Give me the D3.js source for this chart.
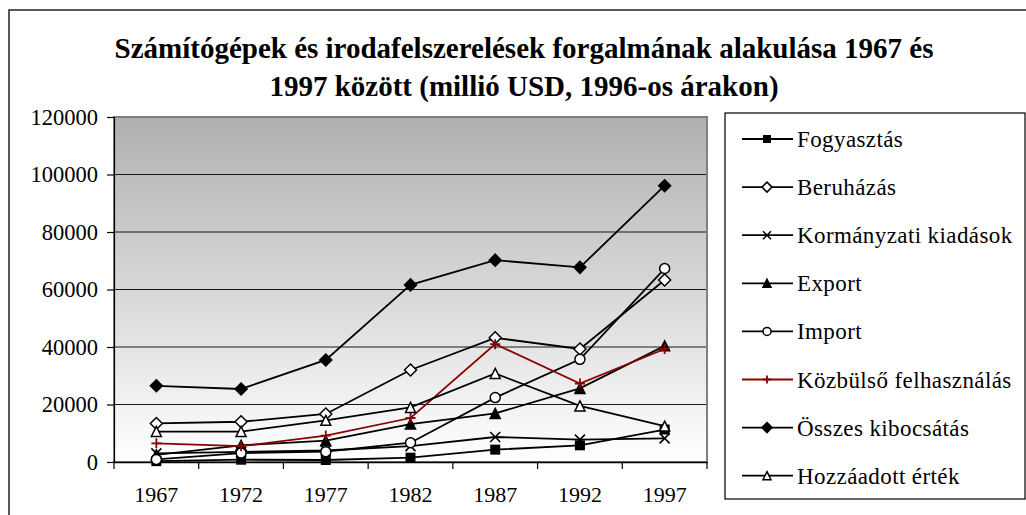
<!DOCTYPE html>
<html>
<head>
<meta charset="utf-8">
<script src="https://cdn.jsdelivr.net/npm/d3@7"></script>
<style>
  body { margin: 0; background: #fff; }
  text { font-family: "Liberation Serif", "DejaVu Serif", serif; fill: #000; }
</style>
</head>
<body>
<script>
// chart data
const years = ["1967", "1972", "1977", "1982", "1987", "1992", "1997"];
const yTicks = [0, 20000, 40000, 60000, 80000, 100000, 120000];

const fogyasztas = [300, 800, 700, 1500, 4300, 5800, 11300];
const beruhazas = [13400, 14000, 16700, 32000, 43200, 39300, 63300];
const kormanyzati = [3000, 3500, 4000, 5500, 8700, 7800, 8200];
const exportVals = [2500, 5800, 7400, 13200, 16900, 25600, 40400];
const importVals = [900, 3100, 3600, 6700, 22400, 35700, 67300];
const kozbulso = [6500, 5500, 9200, 15300, 41000, 27300, 39300];
const osszes = [26500, 25400, 35500, 61600, 70200, 67700, 96100];
const hozzaadott = [10600, 10600, 14500, 19000, 30800, 19500, 12500];

const seriesNames = ["Fogyasztás", "Beruházás", "Kormányzati kiadások", "Export",
    "Import", "Közbülső felhasználás", "Összes kibocsátás", "Hozzáadott érték"];
const seriesValues = [fogyasztas, beruhazas, kormanyzati, exportVals,
    importVals, kozbulso, osszes, hozzaadott];
const markers = ["square", "diamondOpen", "times", "triangle",
    "circleOpen", "plus", "diamond", "triangleOpen"];
const lineColors = ["#000", "#000", "#000", "#000", "#000", "#8b0000", "#000", "#000"];

const W = 1026, H = 515;
const plot = { left: 114, right: 707, top: 117, bottom: 462 };

const svg = d3.select("body").append("svg")
    .attr("width", W)
    .attr("height", H);

const defs = svg.append("defs");
const grad = defs.append("linearGradient")
    .attr("id", "bg")
    .attr("x1", 0).attr("y1", 0).attr("x2", 0).attr("y2", 1);
grad.append("stop").attr("offset", "0%").attr("stop-color", "#b0b0b0");
grad.append("stop").attr("offset", "100%").attr("stop-color", "#ffffff");

// outer chart frame, runs off the right and bottom edge
svg.append("rect")
    .attr("x", 9).attr("y", 10)
    .attr("width", 1040).attr("height", 530)
    .attr("fill", "none")
    .attr("stroke", "#222")
    .attr("stroke-width", 1.5);

// title
const title = svg.append("text")
    .attr("text-anchor", "middle")
    .style("font-weight", "bold")
    .style("font-size", "29px");
title.append("tspan").attr("x", 524).attr("y", 58)
    .text("Számítógépek és irodafelszerelések forgalmának alakulása 1967 és");
title.append("tspan").attr("x", 524).attr("y", 96)
    .text("1997 között (millió USD, 1996-os árakon)");

const x = d3.scaleBand()
    .domain(years)
    .range([plot.left, plot.right])
    .padding(0);

const y = d3.scaleLinear()
    .domain([0, 120000])
    .range([plot.bottom, plot.top]);

const cx = d => x(d) + x.bandwidth() / 2;

// plot area
svg.append("rect")
    .attr("x", plot.left).attr("y", plot.top)
    .attr("width", plot.right - plot.left)
    .attr("height", plot.bottom - plot.top)
    .attr("fill", "url(#bg)");

// gridlines
svg.append("g")
    .selectAll("line")
    .data(yTicks.filter(d => d > 0 && d < 120000))
    .join("line")
    .attr("x1", plot.left).attr("x2", plot.right)
    .attr("y1", d => y(d)).attr("y2", d => y(d))
    .attr("stroke", "#1a1a1a")
    .attr("stroke-width", 1.2);

svg.append("rect")
    .attr("x", plot.left).attr("y", plot.top)
    .attr("width", plot.right - plot.left)
    .attr("height", plot.bottom - plot.top)
    .attr("fill", "none")
    .attr("stroke", "#808080")
    .attr("stroke-width", 2);

// y axis
const yAxis = svg.append("g")
    .attr("transform", `translate(${plot.left},0)`)
    .call(d3.axisLeft(y).tickValues(yTicks).tickSize(7).tickPadding(9)
        .tickFormat(d3.format("d")));
yAxis.select(".domain").attr("stroke", "#000").attr("stroke-width", 1.2);
yAxis.selectAll(".tick line").attr("stroke", "#000").attr("stroke-width", 1.2);
yAxis.selectAll(".tick text")
    .style("font-family", "Liberation Serif")
    .style("font-size", "22.5px")
    .attr("fill", "#000");

// x axis: labels centred in the category, ticks on the boundaries
const xAxis = svg.append("g")
    .attr("transform", `translate(0,${plot.bottom})`)
    .call(d3.axisBottom(x).tickSize(0).tickPadding(24));
xAxis.select(".domain").attr("stroke", "#000").attr("stroke-width", 1.5);
xAxis.selectAll(".tick text")
    .style("font-family", "Liberation Serif")
    .style("font-size", "22px")
    .attr("fill", "#000");

const boundaries = years.map(d => x(d)).concat([x.range()[1]]);
svg.append("g")
    .selectAll("line")
    .data(boundaries)
    .join("line")
    .attr("x1", d => d).attr("x2", d => d)
    .attr("y1", plot.bottom).attr("y2", plot.bottom + 7)
    .attr("stroke", "#000")
    .attr("stroke-width", 1.2);

// marker drawing
function drawMarker(g, type, s, color) {
    const h = s / 2;
    if (type === "square") {
        g.append("rect").attr("x", -h).attr("y", -h).attr("width", s).attr("height", s)
            .attr("fill", "#000");
    } else if (type === "diamond" || type === "diamondOpen") {
        g.append("path").attr("d", `M0,${-h - 1}L${h + 1},0L0,${h + 1}L${-h - 1},0Z`)
            .attr("fill", type === "diamond" ? "#000" : "#fff")
            .attr("stroke", "#000").attr("stroke-width", 1.5);
    } else if (type === "triangle" || type === "triangleOpen") {
        g.append("path").attr("d", `M0,${-h}L${h},${h}L${-h},${h}Z`)
            .attr("fill", type === "triangle" ? "#000" : "#fff")
            .attr("stroke", "#000").attr("stroke-width", 1.5);
    } else if (type === "circleOpen") {
        g.append("circle").attr("r", h)
            .attr("fill", "#fff")
            .attr("stroke", "#000").attr("stroke-width", 1.5);
    } else if (type === "times") {
        g.append("path").attr("d", `M${-h},${-h}L${h},${h}M${h},${-h}L${-h},${h}`)
            .attr("stroke", "#000").attr("stroke-width", 1.6);
    } else if (type === "plus") {
        g.append("path").attr("d", `M${-h},0L${h},0M0,${-h}L0,${h}`)
            .attr("stroke", color).attr("stroke-width", 1.8);
    }
}

const line = d3.line()
    .x((d, i) => cx(years[i]))
    .y(d => y(d));

// series, in legend order so the later ones sit on top
seriesValues.forEach((vals, si) => {
    const g = svg.append("g");
    g.append("path")
        .datum(vals)
        .attr("d", line)
        .attr("fill", "none")
        .attr("stroke", lineColors[si])
        .attr("stroke-width", 1.8);
    vals.forEach((v, i) => {
        const m = g.append("g")
            .attr("transform", `translate(${cx(years[i])},${y(v)})`);
        drawMarker(m, markers[si], 10, lineColors[si]);
    });
});

// legend
const legend = svg.append("g");
legend.append("rect")
    .attr("x", 725).attr("y", 113)
    .attr("width", 300).attr("height", 386)
    .attr("fill", "#fff")
    .attr("stroke", "#000")
    .attr("stroke-width", 1.2);

seriesNames.forEach((name, i) => {
    const ly = 139 + i * 48.1;
    const item = legend.append("g");
    item.append("line")
        .attr("x1", 742).attr("x2", 793)
        .attr("y1", ly).attr("y2", ly)
        .attr("stroke", lineColors[i])
        .attr("stroke-width", 1.8);
    const m = item.append("g").attr("transform", `translate(767,${ly})`);
    drawMarker(m, markers[i], 8, lineColors[i]);
    item.append("text")
        .attr("x", 797).attr("y", ly)
        .attr("dy", "0.35em")
        .style("font-size", "23px")
        .style("letter-spacing", "0.4px")
        .text(name);
});
</script>
</body>
</html>
